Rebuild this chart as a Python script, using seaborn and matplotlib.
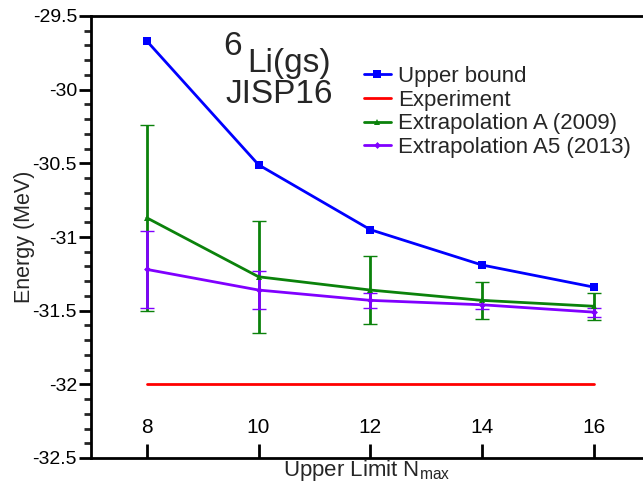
import numpy as np
import pandas as pd
import seaborn as sns
import matplotlib
matplotlib.use("Agg")
import matplotlib.pyplot as plt
from matplotlib.ticker import MultipleLocator, FuncFormatter

# valores
nmax = [8, 10, 12, 14, 16]
upper_bound = [-29.67, -30.51, -30.95, -31.19, -31.34]
extrap_a = [-30.87, -31.27, -31.36, -31.43, -31.47]
extrap_a_err = [0.63, 0.38, 0.23, 0.125, 0.09]
extrap_a5 = [-31.22, -31.36, -31.43, -31.46, -31.51]
extrap_a5_err = [0.26, 0.13, 0.05, 0.03, 0.03]
experiment = -32.0

sns.set_theme(style="ticks")
plt.rcParams['font.family'] = ['Liberation Sans', 'DejaVu Sans']
plt.rcParams['mathtext.fontset'] = 'custom'
plt.rcParams['mathtext.rm'] = 'Liberation Sans'
plt.rcParams['mathtext.it'] = 'Liberation Sans:italic'

df = pd.DataFrame({'nmax': nmax, 'ub': upper_bound, 'a': extrap_a, 'a5': extrap_a5})

fig = plt.figure(figsize=(6.43, 4.88), dpi=100)
ax = fig.add_axes([91/643, 1-458/488, 1-91/643, (458-16)/488])

azul, vermelho, verde, roxo = '#0000ff', '#ff0000', '#0b820b', '#8000ff'

# barras de erro
ax.errorbar(nmax, extrap_a, yerr=extrap_a_err, fmt='none', ecolor=verde,
            elinewidth=2, capsize=5, capthick=1, zorder=2)
ax.errorbar(nmax, extrap_a5, yerr=extrap_a5_err, fmt='none', ecolor=roxo,
            elinewidth=2, capsize=5, capthick=1, zorder=3)

sns.lineplot(data=df, x='nmax', y='ub', ax=ax, color=azul, lw=2, marker='s',
             markersize=6, markeredgewidth=0, label='Upper bound', zorder=5)
ax.plot([nmax[0], nmax[-1]], [experiment, experiment], color=vermelho, lw=2,
        label='Experiment')
sns.lineplot(data=df, x='nmax', y='a', ax=ax, color=verde, lw=2, marker='^',
             markersize=5, markeredgewidth=0, label='Extrapolation A (2009)', zorder=4)
sns.lineplot(data=df, x='nmax', y='a5', ax=ax, color=roxo, lw=2, marker='D',
             markersize=3.5, markeredgewidth=0, label='Extrapolation A5 (2013)', zorder=4)

ax.set_xlim(7, 7 + (643-91)/55.85)
ax.set_ylim(-32.5, -29.5)
ax.set_xticks(nmax)
ax.yaxis.set_major_locator(MultipleLocator(0.5))
ax.yaxis.set_minor_locator(MultipleLocator(0.1))
ax.yaxis.set_major_formatter(FuncFormatter(lambda v, p: '%g' % v))

for s in ['left', 'bottom', 'top']:
    ax.spines[s].set_linewidth(2)
    ax.spines[s].set_color('black')
ax.spines['right'].set_visible(False)

ax.tick_params(axis='x', direction='in', length=10, width=2, pad=-29,
               labelsize=15, colors='black')
ax.tick_params(axis='y', which='major', direction='out', length=9, width=2,
               labelsize=14, pad=1, colors='black')
ax.tick_params(axis='y', which='minor', direction='out', length=5, width=2)

ax.set_xlabel(r'Upper Limit N$_{\mathrm{max}}$', fontsize=16, labelpad=0)
ax.set_ylabel('Energy (MeV)', fontsize=15.5, labelpad=-2)

# rótulo do núcleo: "6" elevado, mesmo tamanho
fig.text(223/643, 1-55/488, '6', fontsize=24, ha='left', va='baseline')
fig.text(247/643, 1-72/488, 'Li(gs)', fontsize=24, ha='left', va='baseline')
fig.text(225/643, 1-103/488, 'JISP16', fontsize=24, ha='left', va='baseline')

ax.legend(loc='upper left', bbox_to_anchor=(364/643, 1-66/488),
          bbox_transform=fig.transFigure, frameon=False, fontsize=16,
          handlelength=1.2, handletextpad=0.35, labelspacing=0.12,
          borderaxespad=0, borderpad=0)

fig.savefig('out.png', dpi=100)
